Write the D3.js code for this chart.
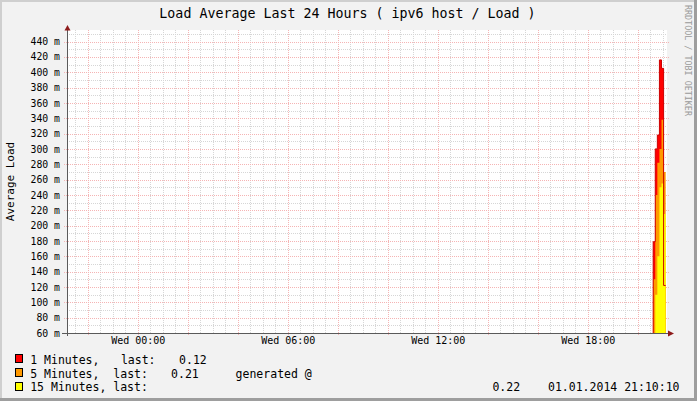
<!DOCTYPE html>
<html><head><meta charset="utf-8">
<script src="https://cdn.jsdelivr.net/npm/d3@7"></script>
<style>
html,body{margin:0;padding:0;background:#F2F2F2;}
svg{display:block;font-family:"DejaVu Sans Mono",monospace;}
</style>
</head><body>
<svg id="chart" width="697" height="401"></svg>
<script>
// ---------- data ----------
const title = "Load Average Last 24 Hours ( ipv6 host / Load )";
const yTitle = "Average Load";
const watermark = "RRDTOOL / TOBI OETIKER";
const rangeStart = "2013-12-31 21:10:10";
const rangeEnd   = "2014-01-01 21:10:10";
// 5-minute samples (start times, Wed 01.01.2014); values below 60 m are off-scale
const sampleTimes = ["20:32","20:37","20:42","20:47","20:52","20:57","21:02"];
const sampleEnd = "21:07";
const load1  = [0.050, 0.179, 0.300, 0.318, 0.416, 0.405, 0.122];
const load5  = [0.050, 0.130, 0.240, 0.282, 0.300, 0.338, 0.270];
const load15 = [0.040, 0.050, 0.110, 0.160, 0.250, 0.255, 0.215];
const yTickValues = [0.06,0.08,0.10,0.12,0.14,0.16,0.18,0.20,0.22,0.24,0.26,0.28,0.30,0.32,0.34,0.36,0.38,0.40,0.42,0.44];
const xTickTimes  = ["2014-01-01 00:00","2014-01-01 06:00","2014-01-01 12:00","2014-01-01 18:00"];
const xTickLabels = ["Wed 00:00","Wed 06:00","Wed 12:00","Wed 18:00"];
const seriesNames  = ["1 Minutes,","5 Minutes,","15 Minutes,"];
const seriesColors = ["#FF0000","#FF9900","#FFFF00"];
const lastValues   = ["0.12","0.21","0.22"];
const generatedAt  = "01.01.2014 21:10:10";

// ---------- setup ----------
const W = 697, H = 401;
const L = 67, R = 667, T = 30, B = 333;
const parse = d3.utcParse("%Y-%m-%d %H:%M:%S");
const parseHM = d3.utcParse("%Y-%m-%d %H:%M");
const t0 = parse(rangeStart), t1 = parse(rangeEnd);
const x = d3.scaleUtc().domain([t0, t1]).range([L, R]);
const y = d3.scaleLinear().domain([0.06, 0.455]).range([B, T]);

const svg = d3.select("#chart");
// background + frame
svg.append("rect").attr("width", W).attr("height", H).attr("fill", "#F2F2F2");
svg.append("rect").attr("x",0).attr("y",0).attr("width",W).attr("height",2).attr("fill","#CFCFCF");
svg.append("rect").attr("x",0).attr("y",0).attr("width",2).attr("height",H).attr("fill","#CFCFCF");
svg.append("rect").attr("x",W-3).attr("y",0).attr("width",3).attr("height",H).attr("fill","#9E9E9E");
svg.append("rect").attr("x",0).attr("y",H-3).attr("width",W).attr("height",3).attr("fill","#9E9E9E");

// plot area
svg.append("rect").attr("x", L).attr("y", T).attr("width", R-L).attr("height", B-T).attr("fill", "#FFFFFF");

// grid
const g = svg.append("g").attr("shape-rendering","crispEdges");
const minorY = d3.range(6, 46).map(v => v/100).filter(v => Math.round(v*100) % 2 === 1);
const minorX = d3.utcMinute.every(30).range(t0, t1).filter(d => d.getUTCMinutes() !== 0 || d.getUTCHours() % 2 !== 0);
const majorX = d3.utcHour.every(2).range(t0, t1);
const minorCol = "#D6D6D6", majorCol = "#F5B4B4";
g.selectAll(".mny").data(minorY).enter().append("line")
  .attr("x1", L).attr("x2", R).attr("y1", d => Math.round(y(d))+0.5).attr("y2", d => Math.round(y(d))+0.5)
  .attr("stroke", minorCol).attr("stroke-dasharray", "1,1");
g.selectAll(".mnx").data(minorX).enter().append("line")
  .attr("x1", d => Math.round(x(d))+0.5).attr("x2", d => Math.round(x(d))+0.5).attr("y1", T).attr("y2", B)
  .attr("stroke", minorCol).attr("stroke-dasharray", "1,1");
g.selectAll(".mjy").data(yTickValues).enter().append("line")
  .attr("x1", L-3).attr("x2", R+2).attr("y1", d => Math.round(y(d))+0.5).attr("y2", d => Math.round(y(d))+0.5)
  .attr("stroke", majorCol).attr("stroke-dasharray", "1,1");
g.selectAll(".mjx").data(majorX).enter().append("line")
  .attr("x1", d => Math.round(x(d))+0.5).attr("x2", d => Math.round(x(d))+0.5).attr("y1", T).attr("y2", B+3)
  .attr("stroke", majorCol).attr("stroke-dasharray", "1,1");

// data
const day = "2014-01-01 ";
const times = sampleTimes.map(s => parseHM(day + s));
const endTime = parseHM(day + sampleEnd);
function pts(vals){ const p = vals.map((v,i)=>({t: times[i], v})); p.push({t: endTime, v: vals[vals.length-1]}); return p; }
svg.append("clipPath").attr("id","clip").append("rect").attr("x",L).attr("y",T).attr("width",R-L+1).attr("height",B-T);
const dg = svg.append("g").attr("clip-path","url(#clip)");
const area = d3.area().curve(d3.curveStepAfter).x(d => x(d.t)).y0(B+5).y1(d => y(d.v));
[load1, load5, load15].forEach((vals, i) => {
  dg.append("path").datum(pts(vals)).attr("d", area).attr("fill", seriesColors[i]);
});
const line = d3.line().curve(d3.curveStepAfter).x(d => x(d.t)).y(d => y(d.v));
dg.append("path").datum(pts(load1)).attr("d", line).attr("fill","none").attr("stroke","#CC0000").attr("stroke-width",1);

// axes lines + arrows
svg.append("line").attr("x1", L+0.5).attr("x2", L+0.5).attr("y1", B+3).attr("y2", T-3).attr("stroke", "#5A5A5A").attr("shape-rendering","crispEdges");
svg.append("line").attr("x1", L-5).attr("x2", R+3).attr("y1", B+0.5).attr("y2", B+0.5).attr("stroke", "#5A5A5A").attr("shape-rendering","crispEdges");
svg.append("path").attr("d", `M${L-2.5},${T+0.5} L${L+3.5},${T+0.5} L${L+0.5},${T-5} Z`).attr("fill", "#8E1B1B");
svg.append("path").attr("d", `M${R+1},${B-2.5} L${R+1},${B+3.5} L${R+7},${B+0.5} Z`).attr("fill", "#8E1B1B");

// y axis labels
const yAxis = d3.axisLeft(y).tickValues(yTickValues).tickSize(0).tickPadding(7)
  .tickFormat(d => Math.round(d*1000) + " m");
const ya = svg.append("g").attr("transform", `translate(${L},0)`).call(yAxis);
ya.select(".domain").remove();
ya.selectAll("text").attr("font-family", '"DejaVu Sans Mono",monospace').attr("font-size", "9.8px").attr("fill", "#000");

// x axis labels
const xTimes = xTickTimes.map(s => parseHM(s));
const xAxis = d3.axisBottom(x).tickValues(xTimes).tickSize(0).tickPadding(4)
  .tickFormat((d,i) => xTickLabels[i]);
const xa = svg.append("g").attr("transform", `translate(0,${B})`).call(xAxis);
xa.select(".domain").remove();
xa.selectAll("text").attr("font-family", '"DejaVu Sans Mono",monospace').attr("font-size", "10px").attr("fill", "#000");

// titles
svg.append("text").attr("x", 347.5).attr("y", 18).attr("text-anchor", "middle")
  .attr("font-size", "13.3px").attr("fill", "#000").text(title);
svg.append("text").attr("transform", `translate(14,${(T+B)/2}) rotate(-90)`).attr("text-anchor", "middle")
  .attr("font-size", "11px").attr("fill", "#000").text(yTitle);
svg.append("text").attr("transform", `translate(685,5) rotate(90)`).attr("text-anchor", "start")
  .attr("font-size", "8.4px").attr("fill", "#9A9A9A").text(watermark);

// legend
const rowY = [363.5, 377.5, 391];
const boxY = [354.5, 368.5, 382.5];
seriesColors.forEach((c, i) => {
  svg.append("rect").attr("x", 15.5).attr("y", boxY[i]).attr("width", 7).attr("height", 8)
    .attr("fill", c).attr("stroke", "#000").attr("stroke-width", 1);
});
const legendPieces = [
  [30.2, 0, seriesNames[0]], [120.9, 0, "last:"], [179.1, 0, lastValues[0]],
  [30.2, 1, seriesNames[1]], [113.3, 1, "last:"], [171.1, 1, lastValues[1]], [235.6, 1, "generated @"],
  [30.2, 2, seriesNames[2] + " last:"], [492.4, 2, lastValues[2]], [548, 2, generatedAt]
];
legendPieces.forEach(([px, r, s]) => {
  svg.append("text").attr("x", px).attr("y", rowY[r]).attr("font-size", "11.5px").attr("fill", "#000")
    .attr("xml:space","preserve").text(s);
});
</script>
</body></html>
